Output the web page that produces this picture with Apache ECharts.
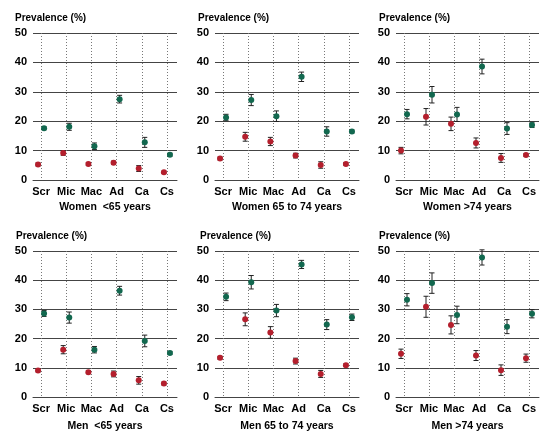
<!DOCTYPE html>
<html>
<head>
<meta charset="utf-8">
<script src="https://cdn.jsdelivr.net/npm/echarts@6/dist/echarts.min.js"></script>
<style>html,body{margin:0;padding:0;background:#fff}#c{width:559px;height:445px}</style>
</head>
<body>
<div id="c"></div>
<script>
const cats = ['Scr', 'Mic', 'Mac', 'Ad', 'Ca', 'Cs'];
const panelTitles = ['Women  <65 years', 'Women 65 to 74 years', 'Women >74 years',
                     'Men  <65 years', 'Men 65 to 74 years', 'Men >74 years'];
const yAxisTitle = 'Prevalence (%)';
const yMin = 0, yMax = 50, yStep = 10;

const wU65Red = [5.3, 9.2, 5.45, 5.9, 3.9, 2.6];
const wU65RedErr = [0.5, 0.8, 0.5, 0.5, 1.0, 0.4];
const wU65Green = [17.6, 18.1, 11.5, 27.5, 12.8, 8.6];
const wU65GreenErr = [0.5, 1.2, 1.1, 1.3, 1.7, 0.5];

const w6574Red = [7.3, 14.7, 13.1, 8.3, 5.1, 5.45];
const w6574RedErr = [0.5, 1.5, 1.4, 0.8, 1.1, 0.5];
const w6574Green = [21.25, 27.2, 21.7, 35.1, 16.5, 16.5];
const w6574GreenErr = [1.1, 1.9, 1.8, 1.6, 1.6, 0.5];

const wO74Red = [10.0, 21.5, 19.1, 12.6, 7.5, 8.5];
const wO74RedErr = [1.1, 2.8, 2.3, 1.7, 1.5, 0.5];
const wO74Green = [22.4, 29.0, 22.3, 38.6, 17.5, 18.75];
const wO74GreenErr = [1.6, 2.8, 2.4, 2.5, 2.0, 0.9];

const mU65Red = [9.1, 16.2, 8.5, 7.9, 5.7, 4.6];
const mU65RedErr = [0.5, 1.4, 0.5, 1.0, 1.3, 0.5];
const mU65Green = [28.6, 27.2, 16.2, 36.4, 19.2, 15.1];
const mU65GreenErr = [1.0, 1.9, 1.1, 1.5, 2.0, 0.5];

const m6574Red = [13.4, 26.6, 22.1, 12.3, 7.9, 10.9];
const m6574RedErr = [0.5, 2.2, 2.0, 1.0, 1.2, 0.5];
const m6574Green = [34.3, 39.3, 29.6, 45.4, 24.8, 27.3];
const m6574GreenErr = [1.3, 2.3, 2.1, 1.4, 1.7, 1.1];

const mO74Red = [14.8, 30.9, 24.7, 14.2, 9.2, 13.3];
const mO74RedErr = [1.6, 3.6, 3.1, 1.7, 1.8, 1.4];
const mO74Green = [33.3, 39.0, 28.1, 47.8, 24.1, 28.5];
const mO74GreenErr = [2.1, 3.5, 3.0, 2.6, 2.4, 1.4];

const panels = [
  [wU65Red, wU65RedErr, wU65Green, wU65GreenErr],
  [w6574Red, w6574RedErr, w6574Green, w6574GreenErr],
  [wO74Red, wO74RedErr, wO74Green, wO74GreenErr],
  [mU65Red, mU65RedErr, mU65Green, mU65GreenErr],
  [m6574Red, m6574RedErr, m6574Green, m6574GreenErr],
  [mO74Red, mO74RedErr, mO74Green, mO74GreenErr]
];

const FONT = "'Liberation Sans Narrow', 'Liberation Sans', Arial, sans-serif";
const RED = '#b41f2d';
const GREEN = '#12684f';
const gridLefts = [33, 215, 396];
const gridWidths = [144, 144, 143];
const gridTops = [33, 251];
const gridHeights = [147, 146];
const titleLefts = [[15, 198, 379], [16, 200, 379]];
const titleTops = [13, 231];
const nameGaps = [22, 24];
const OFF = 0.12;
const idx = cats.map((c, i) => i);

const grids = [], xAxes = [], yAxes = [], series = [], titles = [];

function errRender(params, api) {
  const x = api.value(0), lo = api.value(1), hi = api.value(2);
  const p1 = api.coord([x, lo]), p2 = api.coord([x, hi]);
  const hw = 2.5;
  const st = { stroke: '#222', lineWidth: 1 };
  return {
    type: 'group',
    children: [
      { type: 'line', shape: { x1: p1[0], y1: p1[1], x2: p2[0], y2: p2[1] }, style: st },
      { type: 'line', shape: { x1: p1[0] - hw, y1: p1[1], x2: p1[0] + hw, y2: p1[1] }, style: st },
      { type: 'line', shape: { x1: p2[0] - hw, y1: p2[1], x2: p2[0] + hw, y2: p2[1] }, style: st }
    ]
  };
}

panels.forEach((p, k) => {
  const row = Math.floor(k / 3), col = k % 3;
  grids.push({ left: gridLefts[col], width: gridWidths[col], top: gridTops[row], height: gridHeights[row] });
  xAxes.push({
    type: 'value', gridIndex: k, min: -0.32, max: 5.4,
    axisLine: { show: true, lineStyle: { color: '#444', width: 1 } },
    axisTick: { show: false, customValues: idx },
    axisLabel: { customValues: idx, formatter: v => cats[Math.round(v)], margin: 6,
      fontFamily: FONT, fontWeight: 'bold', fontSize: 11, color: '#000' },
    splitLine: { show: true, lineStyle: { type: [1, 2], color: '#777', width: 1 } },
    name: panelTitles[k], nameLocation: 'middle', nameGap: nameGaps[row],
    nameTextStyle: { fontFamily: FONT, fontWeight: 'bold', fontSize: 10.5, color: '#000' }
  });
  yAxes.push({
    type: 'value', gridIndex: k, min: yMin, max: yMax, interval: yStep,
    axisLine: { show: false }, axisTick: { show: false },
    axisLabel: { fontFamily: FONT, fontWeight: 'bold', fontSize: 11, color: '#000', margin: 6 },
    splitLine: { show: true, lineStyle: { color: '#444', width: 1 } }
  });
  titles.push({ text: yAxisTitle, left: titleLefts[row][col], top: titleTops[row], padding: 0,
    textStyle: { fontFamily: FONT, fontWeight: 'bold', fontSize: 10, color: '#000' } });

  const [rv, re, gv, ge] = p;
  series.push({
    type: 'custom', xAxisIndex: k, yAxisIndex: k, renderItem: errRender, z: 3,
    data: rv.map((v, i) => [i - OFF, v - re[i], v + re[i]])
  });
  series.push({
    type: 'custom', xAxisIndex: k, yAxisIndex: k, renderItem: errRender, z: 3,
    data: gv.map((v, i) => [i + OFF, v - ge[i], v + ge[i]])
  });
  series.push({
    type: 'scatter', xAxisIndex: k, yAxisIndex: k, symbol: 'circle', symbolSize: 6, z: 5,
    itemStyle: { color: RED, opacity: 1 },
    data: rv.map((v, i) => [i - OFF, v])
  });
  series.push({
    type: 'scatter', xAxisIndex: k, yAxisIndex: k, symbol: 'circle', symbolSize: 6, z: 5,
    itemStyle: { color: GREEN, opacity: 1 },
    data: gv.map((v, i) => [i + OFF, v])
  });
});

const chart = echarts.init(document.getElementById('c'), null, { renderer: 'canvas' });
chart.setOption({
  animation: false,
  backgroundColor: '#fff',
  title: titles,
  grid: grids,
  xAxis: xAxes,
  yAxis: yAxes,
  series: series
});
</script>
</body>
</html>
